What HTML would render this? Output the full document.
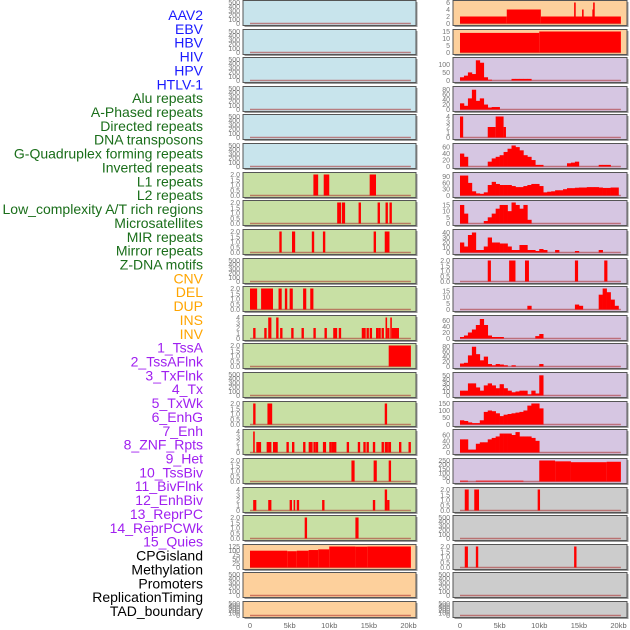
<!DOCTYPE html>
<html><head><meta charset="utf-8"><style>
html,body{margin:0;padding:0;background:#fff;}
svg{display:block;font-family:"Liberation Sans",sans-serif;}
</style></head><body>
<svg id="chart" width="630" height="630" viewBox="0 0 630 630"></svg>
<script>
const trackNames = ["AAV2","EBV","HBV","HIV","HPV","HTLV-1","Alu repeats","A-Phased repeats","Directed repeats","DNA transposons","G-Quadruplex forming repeats","Inverted repeats","L1 repeats","L2 repeats","Low_complexity A/T rich regions","Microsatellites","MIR repeats","Mirror repeats","Z-DNA motifs","CNV","DEL","DUP","INS","INV","1_TssA","2_TssAFlnk","3_TxFlnk","4_Tx","5_TxWk","6_EnhG","7_Enh","8_ZNF_Rpts","9_Het","10_TssBiv","11_BivFlnk","12_EnhBiv","13_ReprPC","14_ReprPCWk","15_Quies","CPGisland","Methylation","Promoters","ReplicationTiming","TAD_boundary"];
const labelColors = [[6,"#1a1aff"],[19,"#1a6e1a"],[24,"#ffa500"],[39,"#a020f0"],[44,"#000000"]];
const xTicks = [0,5,10,15,20];
const xTickLabels = ["0","5kb","10kb","15kb","20kb"];
const emptyTicks = [0,100,200,300,400,500];
const ticks2 = [0,0.5,1,1.5,2];
const ticks4 = [0,1,2,3,4];

// left column segments [startKb, endKb, value]
const L7 = [[8.0,8.6,2],[9.3,10.0,2],[15.1,15.9,2]];
const L8 = [[11.0,11.5,2],[11.6,12.0,2],[13.7,14.0,2],[16.1,16.4,2],[17.1,17.4,2],[17.6,17.9,2]];
const L9 = [[3.7,4.0,2],[5.3,5.7,2],[7.8,8.1,2],[9.2,9.5,2],[15.6,15.9,2],[17.0,17.6,2]];
const L11 = [[0,0.9,2],[1.4,2.9,2],[3.6,4.0,2],[4.4,4.7,2],[5.0,5.4,2],[6.7,7.1,2],[7.6,8.0,2]];
const L12 = [[0.4,0.7,2],[1.8,2.1,2],[2.3,2.7,4],[3.3,3.6,4],[3.8,4.1,2],[5.2,5.5,2],[6.5,6.8,2],[8.0,8.3,2],[9.4,9.7,2],[10.5,11.0,2],[11.2,11.5,2],[14.1,14.6,2],[14.7,15.0,2],[15.1,15.4,2],[15.9,16.2,2],[16.2,16.5,2],[16.6,16.9,2],[17.1,17.3,4],[17.3,17.6,2],[17.7,17.9,4],[17.9,18.8,2]];
const L13 = [[17.5,20.3,2]];
const L15 = [[0.4,0.7,2],[2.2,2.8,2],[17.0,17.3,2]];
const L16 = [[0.4,0.6,4],[0.8,1.4,2],[2.1,2.7,2],[2.9,3.5,2],[4.6,4.9,2],[5.3,5.6,2],[6.7,7.0,2],[7.4,7.7,2],[7.7,7.9,2],[8.0,8.3,2],[8.3,8.6,2],[9.2,9.6,2],[10.0,10.3,2],[10.3,10.6,2],[10.6,10.9,2],[12.2,12.5,2],[13.6,13.9,2],[14.3,14.6,2],[14.7,15.0,2],[15.5,15.8,2],[16.6,16.9,2],[17.0,17.3,2],[17.3,17.5,2],[17.5,17.8,2],[18.8,19.1,2],[20.0,20.3,2]];
const L17 = [[12.8,13.2,2],[15.6,16.0,2],[17.5,17.8,2]];
const L18 = [[0.4,0.8,2],[2.3,2.7,2],[5.0,5.3,2],[5.5,5.7,2],[5.9,6.2,2],[9.1,9.4,2],[15.5,15.8,2],[17.0,17.3,4],[17.3,17.6,2]];
const L19 = [[6.9,7.2,2],[13.3,13.7,2]];
const L20 = [[0,4.7,100],[4.7,5.9,97],[5.9,7.4,100],[7.4,8.6,104],[8.6,10.0,108],[10.0,13.3,125],[13.3,14.8,124],[14.8,20.3,125]];

// right column segments
const R1 = [[0,5.9,2],[5.9,10.2,4],[10.2,20.3,2],[14.4,14.6,6],[15.4,15.6,4],[16.7,16.8,4],[16.8,17.0,6]];
const R2 = [[0,10,14],[10,20.3,15]];
const R5 = [[0,0.4,4],[3.5,4.5,2],[4.5,5.5,4],[5.5,5.8,2]];
const R10 = [[3.5,3.9,2],[6.2,7.0,2],[8.2,8.7,2],[14.5,14.9,2],[18.2,18.6,2]];
const R17 = [[0,1,10],[2,8,10],[10,12,250],[12,14,240],[14,18.5,230],[18.5,20.3,235]];
const R18 = [[0.6,1.1,2],[1.8,2.4,2],[9.8,10.1,2]];
const R20 = [[0.6,1.0,2],[2.0,2.3,2],[14.4,14.7,2]];

// right column binned values (0.5 kb bins)
const R3 = [20,30,50,40,125,110,20,5,0,0,0,0,0,10,10,10,10,10];
const R4 = [25,15,45,80,35,45,20,8,10,10];
const R6 = [40,30,0,0,0,0,0,15,25,30,35,45,55,65,60,50,35,30,20,5,5,0,0,0,0,0,0,10,12,15,0,0,0,0,0,5,5,5];
const R7 = [95,95,60,20,10,8,15,50,65,55,50,50,50,45,40,40,45,50,55,55,45,15,18,20,25,25,30,35,35,37,38,38,40,40,40,38,36,36,38,38];
const R8 = [15,8,0,0,0,0,2,5,8,12,15,15,10,18,15,12,15,3];
const R9 = [20,12,35,40,5,5,12,30,20,20,18,18,12,5,5,15,15,5,5,3,7,5,0,0,5,0,0,0,0,3,0,0,0,0,0,5];
const R11 = [0,0,0,0,0,0,0,0,0,0,0,0,0,0,0,0,0,3,0,0,0,0,0,0,0,0,0,0,0,4,3,0,0,0,0,12,17,14,8,3];
const R12 = [5,10,20,30,45,65,45,10,5,5,5,0,0,0,0,0,0,0,0,8,15];
const R13 = [12,15,45,80,50,25,40,10,5,10,8,5,0,5,0,0,0,0,0,0,10];
const R14 = [12,12,30,30,20,12,25,30,25,18,28,18,12,8,10,12,12,3,12,5,50];
const R15 = [30,25,15,10,10,30,90,100,95,80,60,70,75,80,85,90,100,135,150,150,115];
const R16 = [45,45,10,10,30,35,35,45,50,55,65,65,65,60,70,55,55,55,50,40];

const BLUE="#c8e4ec", GREEN="#c8e0a4", ORANGE="#fdd09c", PURPLE="#d6c6e2", GREY="#cccccc";
const leftPanels = [
 {bg:BLUE,t:emptyTicks},{bg:BLUE,t:emptyTicks},{bg:BLUE,t:emptyTicks},{bg:BLUE,t:emptyTicks},{bg:BLUE,t:emptyTicks},{bg:BLUE,t:emptyTicks},
 {bg:GREEN,t:ticks2,seg:L7},{bg:GREEN,t:ticks2,seg:L8},{bg:GREEN,t:ticks2,seg:L9},{bg:GREEN,t:emptyTicks},
 {bg:GREEN,t:ticks2,seg:L11},{bg:GREEN,t:ticks4,seg:L12},{bg:GREEN,t:ticks2,seg:L13},{bg:GREEN,t:emptyTicks},
 {bg:GREEN,t:ticks2,seg:L15},{bg:GREEN,t:ticks4,seg:L16},{bg:GREEN,t:ticks2,seg:L17},{bg:GREEN,t:ticks4,seg:L18},
 {bg:GREEN,t:ticks2,seg:L19},{bg:ORANGE,t:[0,25,50,75,100,125],seg:L20},{bg:ORANGE,t:emptyTicks},{bg:ORANGE,t:emptyTicks}
];
const rightPanels = [
 {bg:ORANGE,t:[0,2,4,6],seg:R1},{bg:ORANGE,t:[0,5,10,15],seg:R2},
 {bg:PURPLE,t:[0,50,100],max:130,bins:R3},{bg:PURPLE,t:[0,20,40,60,80],max:85,bins:R4},
 {bg:PURPLE,t:[0,1,2,3,4],seg:R5},{bg:PURPLE,t:[0,20,40,60],max:65,bins:R6},
 {bg:PURPLE,t:[0,30,60,90],max:100,bins:R7},{bg:PURPLE,t:[0,5,10,15],max:17,bins:R8},
 {bg:PURPLE,t:[0,10,20,30,40],max:42,bins:R9},{bg:PURPLE,t:ticks2,seg:R10},
 {bg:PURPLE,t:[0,5,10,15],max:17,bins:R11},{bg:PURPLE,t:[0,20,40,60],max:70,bins:R12},
 {bg:PURPLE,t:[0,20,40,60,80],max:85,bins:R13},{bg:PURPLE,t:[0,10,20,30,40,50],max:52,bins:R14},
 {bg:PURPLE,t:[0,50,100,150],max:150,bins:R15},{bg:PURPLE,t:[0,20,40,60],max:72,bins:R16},
 {bg:PURPLE,t:[0,50,100,150,200,250],seg:R17},{bg:GREY,t:ticks2,seg:R18},
 {bg:GREY,t:emptyTicks},{bg:GREY,t:ticks2,seg:R20},{bg:GREY,t:emptyTicks},{bg:GREY,t:emptyTicks}
];

const NS="http://www.w3.org/2000/svg";
const svg=document.getElementById("chart");
function mk(tag,attrs,parent){const e=document.createElementNS(NS,tag);for(const k in attrs)e.setAttribute(k,attrs[k]);(parent||svg).appendChild(e);return e;}

// labels
trackNames.forEach((n,i)=>{
  let col="#000"; for(const [lim,c] of labelColors){ if(i<lim){col=c;break;} }
  const t=mk("text",{x:203,y:15+i*13.86+5,"text-anchor":"end","font-size":"14",fill:col});
  t.textContent=n;
  
  
});

function drawColumn(panels,x0,x1,zx,cname){
  const xs=kb=>zx+kb*(158.5/20);
  panels.forEach((p,i)=>{
    const T=Math.round(i*28.62)+0.5, H=(i===21)?16:25;
    const g=mk("g",{});
    
    
    mk("rect",{x:x0+1.5,y:T+1.5,width:x1-x0,height:H,fill:"#999"},g);
    mk("rect",{x:x0,y:T,width:x1-x0,height:H,fill:p.bg,stroke:"#555","stroke-width":1},g);
    const base=T+H-2, top=T+2;
    const ymax=p.max||p.t[p.t.length-1];
    const ys=v=>base-(Math.min(v,ymax)/ymax)*(base-top);
    p.t.forEach(v=>{
      const tl=mk("text",{x:x0-3,y:ys(v)+2.5,"text-anchor":"end","font-size":"7",fill:"#777"},g);
      tl.textContent=(p.t===ticks2)?v.toFixed(1):String(v);
    });
    mk("line",{x1:xs(0),x2:xs(20.3),y1:base,y2:base,stroke:"rgba(170,40,40,0.55)","stroke-width":1.5},g);
    if(p.seg){p.seg.forEach(s=>{
      const r=mk("rect",{x:xs(s[0]),y:ys(s[2]),width:Math.max(1.5,xs(s[1])-xs(s[0])),height:base-ys(s[2]),fill:"#ff0000"},g);
      
      
    });}
    if(p.bins){p.bins.forEach((v,b)=>{ if(v<=0)return;
      const r=mk("rect",{x:xs(b*0.5),y:ys(v),width:xs(0.5)-xs(0)+0.3,height:base-ys(v),fill:"#ff0000"},g);
      
      
    });}
  });
  xTicks.forEach((v,k)=>{
    const t=mk("text",{x:xs(v),y:628,"text-anchor":"middle","font-size":"7.5",fill:"#666"});
    t.textContent=xTickLabels[k];
    
    
  });
}
drawColumn(leftPanels,243,416,250,"left");
drawColumn(rightPanels,453,627,460,"right");
</script>
</body></html>
